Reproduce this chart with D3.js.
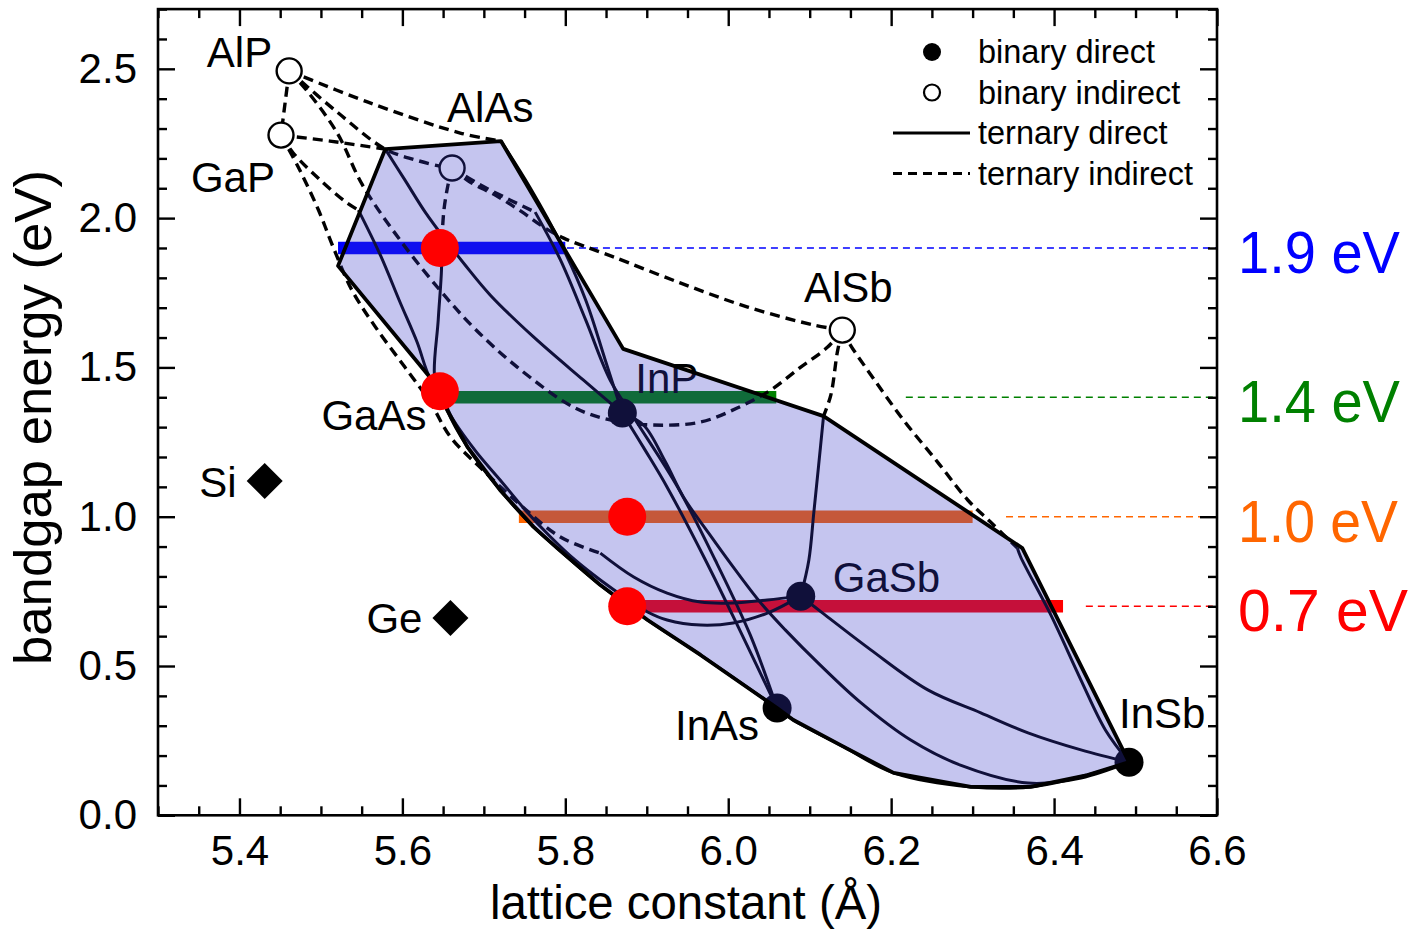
<!DOCTYPE html>
<html>
<head>
<meta charset="utf-8">
<script src="https://cdn.jsdelivr.net/npm/d3@7"></script>
<style>
  html, body { margin: 0; padding: 0; background: #fff; }
  svg { display: block; }
  text { font-family: "Liberation Sans", Arial, Helvetica, sans-serif; }
</style>
</head>
<body>
<svg id="chart" width="1419" height="931"></svg>
<script>
// ---------- data: III-V binaries (lattice constant in Å, bandgap in eV) ----------
const binaryNames   = ["AlP", "GaP", "AlAs", "AlSb", "GaAs", "InP", "GaSb", "InAs", "InSb"];
const binaryLattice = [5.461, 5.451, 5.661, 6.140, 5.648, 5.870, 6.089, 6.060, 6.492];
const binaryGap     = [2.493, 2.278, 2.168, 1.625, 1.420, 1.347, 0.734, 0.359, 0.178];
const binaryDirect  = [false, false, false, false, true, true, true, true, true];

// group-IV elements
const elementNames   = ["Si", "Ge"];
const elementLattice = [5.431, 5.659];
const elementGap     = [1.120, 0.661];

// ---------- ternary alloys: [lattice, gap] along each composition curve ----------
// indirect (X-valley) parts
const AlGaP_ind  = [[5.461,2.493],[5.451,2.278]];
const AlPAs_ind  = [[5.461,2.493],[5.520,2.355],[5.579,2.231],[5.616,2.195],[5.646,2.174],[5.661,2.168]];
const AlInP_ind  = [[5.461,2.493],[5.557,2.389],[5.671,2.285],[5.721,2.258]];
const GaInP_ind  = [[5.451,2.278],[5.511,2.258],[5.579,2.231]];
const GaAsP_ind  = [[5.451,2.278],[5.466,2.218],[5.499,2.128],[5.532,2.051],[5.546,2.027]];
const GaPSb_ind  = [[5.451,2.278],[5.474,2.161],[5.497,2.027],[5.515,1.903],[5.538,1.759],[5.567,1.635],
                    [5.603,1.501],[5.634,1.384],[5.659,1.267],[5.699,1.156],[5.745,1.039],[5.794,0.932],[5.843,0.878]];
const AlPSb_ind  = [[5.461,2.493],[5.483,2.426],[5.520,2.285],[5.551,2.111],[5.597,1.927],[5.646,1.759],
                    [5.687,1.635],[5.741,1.501],[5.810,1.367],[5.855,1.324],[5.908,1.307],[5.966,1.317],
                    [6.011,1.364],[6.052,1.424],[6.089,1.501],[6.122,1.568],[6.140,1.625]];
const AlGaAs_ind = [[5.661,2.168],[5.656,2.111],[5.651,2.027],[5.648,1.900]];
const AlAsSb_ind = [[5.661,2.168],[5.683,2.121],[5.714,2.077],[5.745,2.024],[5.775,1.967],[5.798,1.933],
                    [5.822,1.907],[5.859,1.870],[5.941,1.783],[6.024,1.702],[6.105,1.642],[6.140,1.625]];
const AlInAs_ind = [[5.661,2.168],[5.696,2.111],[5.732,2.061],[5.763,2.020]];
const AlGaSb_ind = [[6.140,1.625],[6.134,1.552],[6.126,1.408],[6.117,1.337]];
const AlInSb_ind = [[6.140,1.625],[6.150,1.575],[6.178,1.464],[6.215,1.324],[6.257,1.183],[6.294,1.056],
                    [6.322,0.982],[6.355,0.895]];

// direct (Gamma-valley) parts
const AlInP_dir  = [[5.721,2.258],[5.757,2.101],[5.794,1.917],[5.825,1.726],[5.849,1.525],[5.870,1.347]];
const GaInP_dir  = [[5.579,2.231],[5.603,2.128],[5.628,2.020],[5.653,1.927],[5.677,1.843],[5.708,1.742],
                    [5.761,1.602],[5.822,1.458],[5.870,1.347]];
const GaAsP_dir  = [[5.546,2.027],[5.573,1.876],[5.597,1.719],[5.618,1.585],[5.634,1.464],[5.648,1.420]];
const GaPSb_dir  = [[5.843,0.878],[5.884,0.798],[5.925,0.744],[5.966,0.714],[6.006,0.711],[6.048,0.721],[6.089,0.734]];
const AlGaAs_dir = [[5.648,1.900],[5.648,1.826],[5.644,1.659],[5.640,1.458],[5.648,1.420]];
const AlInAs_dir = [[5.763,2.020],[5.794,1.860],[5.825,1.659],[5.855,1.458],[5.886,1.324],[5.938,1.099],
                    [5.984,0.855],[6.027,0.604],[6.060,0.359]];
const InAsP_dir  = [[5.870,1.347],[5.898,1.223],[5.925,1.099],[5.972,0.855],[6.017,0.604],[6.060,0.359]];
const InPSb_dir  = [[5.870,1.347],[5.896,1.307],[5.923,1.183],[5.945,1.066],[5.976,0.945],[6.006,0.832],
                    [6.040,0.711],[6.070,0.621],[6.113,0.503],[6.162,0.379],[6.224,0.252],[6.285,0.168],
                    [6.368,0.108],[6.433,0.125],[6.492,0.178]];
const GaAsSb_dir = [[5.648,1.420],[5.659,1.341],[5.689,1.223],[5.720,1.123],[5.751,1.022],[5.782,0.932],
                    [5.812,0.855],[5.843,0.788],[5.874,0.728],[5.901,0.681],[5.925,0.654],[5.966,0.637],
                    [6.006,0.644],[6.048,0.677],[6.089,0.734]];
const GaInAs_dir = [[5.648,1.420],[5.655,1.357],[5.680,1.233],[5.720,1.089],[5.761,0.966],[5.790,0.895],
                    [5.843,0.771],[5.901,0.654],[5.966,0.537],[6.060,0.359]];
const InAsSb_dir = [[6.060,0.359],[6.080,0.319],[6.142,0.229],[6.203,0.142],[6.298,0.095],[6.371,0.095],
                    [6.441,0.135],[6.492,0.178]];
const GaInSb_dir = [[6.089,0.734],[6.116,0.677],[6.175,0.554],[6.245,0.420],[6.310,0.343],[6.368,0.276],
                    [6.433,0.219],[6.492,0.178]];
const AlGaSb_dir = [[6.117,1.337],[6.111,1.173],[6.105,1.012],[6.099,0.855],[6.089,0.734]];
const AlInSb_dir = [[6.355,0.895],[6.359,0.865],[6.396,0.671],[6.433,0.453],[6.463,0.286],[6.492,0.178]];

// upper boundary of the shaded direct-gap region (lower boundary follows GaInAs and InAsSb)
const regionUpper = [[5.521,1.840],[5.579,2.231],[5.721,2.258],[5.871,1.562],[6.117,1.337],[6.361,0.895],[6.492,0.178]];

// target bandgaps with their lattice-constant spans
const targetGap    = [1.9, 1.4, 1.0, 0.7];
const targetLabels = ["1.9 eV", "1.4 eV", "1.0 eV", "0.7 eV"];
const barFrom      = [5.521, 5.646, 5.743, 5.876];
const barTo        = [5.800, 6.059, 6.300, 6.411];
const guideFrom    = [5.802, 6.218, 6.341, 6.439];

// highlighted compositions
const dotLattice = [5.646, 5.646, 5.876, 5.876];
const dotGap     = [1.9, 1.42, 1.0, 0.7];

// axis ticks
const xTicks = [5.4, 5.6, 5.8, 6.0, 6.2, 6.4, 6.6];
const yTicks = [0.0, 0.5, 1.0, 1.5, 2.0, 2.5];

// legend
const legendLabels = ["binary direct", "binary indirect", "ternary direct", "ternary indirect"];

// ---------- drawing ----------
const svg = d3.select("#chart");
const x = d3.scaleLinear().domain([5.3, 6.6]).range([158, 1217]);
const y = d3.scaleLinear().domain([0, 2.7]).range([815.3, 9.1]);

const targetColors = ["#0000ff", "#008000", "#ff6600", "#ff0000"];

const lineGen = d3.line().x(d => x(d[0])).y(d => y(d[1])).curve(d3.curveCatmullRom.alpha(0.5));

const under = svg.append("g");

// target bars and horizontal guides
under.selectAll("line.bar").data(targetGap).join("line")
  .attr("x1", (d, i) => x(barFrom[i])).attr("x2", (d, i) => x(barTo[i]))
  .attr("y1", d => y(d)).attr("y2", d => y(d))
  .attr("stroke", (d, i) => targetColors[i]).attr("stroke-width", 12.5);

under.selectAll("line.guide").data(targetGap).join("line")
  .attr("x1", (d, i) => x(guideFrom[i])).attr("x2", x(6.6))
  .attr("y1", d => y(d)).attr("y2", d => y(d))
  .attr("stroke", (d, i) => targetColors[i]).attr("stroke-width", 1.5)
  .attr("stroke-dasharray", "7,5");

// ternary curves
const indirectCurves = [AlGaP_ind, AlPAs_ind, AlInP_ind, GaInP_ind, GaAsP_ind, GaPSb_ind, AlPSb_ind,
                        AlGaAs_ind, AlAsSb_ind, AlInAs_ind, AlGaSb_ind, AlInSb_ind];
const directCurves = [AlInP_dir, GaInP_dir, GaAsP_dir, GaPSb_dir, AlGaAs_dir, AlInAs_dir, InAsP_dir,
                      InPSb_dir, GaAsSb_dir, GaInAs_dir, InAsSb_dir, GaInSb_dir, AlGaSb_dir, AlInSb_dir];

under.selectAll("path.direct").data(directCurves).join("path")
  .attr("d", lineGen).attr("fill", "none").attr("stroke", "#000").attr("stroke-width", 3);

under.selectAll("path.indirect").data(indirectCurves).join("path")
  .attr("d", lineGen).attr("fill", "none").attr("stroke", "#000").attr("stroke-width", 3.4)
  .attr("stroke-dasharray", "10,6");

// binaries
const binaries = binaryNames.map((n, i) => ({ name: n, a: binaryLattice[i], g: binaryGap[i], direct: binaryDirect[i] }));
under.selectAll("circle.bin").data(binaries).join("circle")
  .attr("cx", d => x(d.a)).attr("cy", d => y(d.g))
  .attr("r", d => d.direct ? 14.5 : 12.5)
  .attr("fill", d => d.direct ? "#000" : "#fff")
  .attr("stroke", "#000").attr("stroke-width", d => d.direct ? 0 : 2.4);

// label placement around each marker: [dx, dy, anchor]
const labelPlace = {
  AlP: [-17, -4, "end"], GaP: [-6, 57, "end"], AlAs: [-5, -46, "start"], AlSb: [6, -28, "middle"],
  GaAs: [-15, 39, "end"], InP: [13, -20, "start"], GaSb: [32, -4, "start"], InAs: [-18, 32, "end"],
  InSb: [-10, -34, "start"], Si: [-28, 16, "end"], Ge: [-28, 15, "end"]
};

under.selectAll("text.bin").data(binaries).join("text")
  .attr("x", d => x(d.a) + labelPlace[d.name][0])
  .attr("y", d => y(d.g) + labelPlace[d.name][1])
  .attr("text-anchor", d => labelPlace[d.name][2])
  .attr("font-size", 42).attr("fill", "#000")
  .text(d => d.name);

// group-IV elements as diamonds
const elements = elementNames.map((n, i) => ({ name: n, a: elementLattice[i], g: elementGap[i] }));
under.selectAll("path.elem").data(elements).join("path")
  .attr("d", d => { const cx = x(d.a), cy = y(d.g), r = 18;
    return `M${cx},${cy - r}L${cx + r},${cy}L${cx},${cy + r}L${cx - r},${cy}Z`; })
  .attr("fill", "#000");
under.selectAll("text.elem").data(elements).join("text")
  .attr("x", d => x(d.a) + labelPlace[d.name][0])
  .attr("y", d => y(d.g) + labelPlace[d.name][1])
  .attr("text-anchor", "end").attr("font-size", 42).text(d => d.name);

// shaded direct-gap region
const regionPts = regionUpper.concat(InAsSb_dir.slice().reverse().slice(1), GaInAs_dir.slice().reverse().slice(1));
const polyGen = d3.line().x(d => x(d[0])).y(d => y(d[1])).curve(d3.curveLinearClosed);
svg.append("path").attr("d", polyGen(regionPts))
  .attr("fill", "rgba(55,55,200,0.29)").attr("stroke", "none");
svg.append("path").attr("d", polyGen(regionPts))
  .attr("fill", "none").attr("stroke", "#000").attr("stroke-width", 3.8).attr("stroke-linejoin", "round");

// highlighted compositions
svg.selectAll("circle.dot").data(dotGap).join("circle")
  .attr("cx", (d, i) => x(dotLattice[i])).attr("cy", d => y(d))
  .attr("r", 19).attr("fill", "#ff0000");

// ---------- axes ----------
const xMinor = d3.range(0, 27).map(i => +(5.3 + i * 0.05).toFixed(2)).filter(v => !xTicks.some(t => Math.abs(t - v) < 1e-6));
const yMinor = d3.range(0, 28).map(i => +(i * 0.1).toFixed(1)).filter(v => !yTicks.some(t => Math.abs(t - v) < 1e-6));

function styleAxis(g) {
  g.select(".domain").remove();
  g.selectAll(".tick line").attr("stroke", "#000").attr("stroke-width", 2.4);
  g.selectAll(".tick text").attr("font-size", 42).attr("fill", "#000")
    .attr("font-family", "'Liberation Sans', Arial, sans-serif");
}

const fmt = d3.format(".1f");
svg.append("g").attr("transform", "translate(0,815.3)")
  .call(d3.axisBottom(x).tickValues(xTicks).tickFormat(fmt).tickSizeInner(-17).tickSizeOuter(0).tickPadding(20))
  .call(styleAxis);
svg.append("g").attr("transform", "translate(0,815.3)")
  .call(d3.axisBottom(x).tickValues(xMinor).tickFormat("").tickSizeInner(-9).tickSizeOuter(0))
  .call(styleAxis);
svg.append("g").attr("transform", "translate(0,9.1)")
  .call(d3.axisTop(x).tickValues(xTicks).tickFormat("").tickSizeInner(-17).tickSizeOuter(0))
  .call(styleAxis);
svg.append("g").attr("transform", "translate(0,9.1)")
  .call(d3.axisTop(x).tickValues(xMinor).tickFormat("").tickSizeInner(-9).tickSizeOuter(0))
  .call(styleAxis);

svg.append("g").attr("transform", "translate(158,0)")
  .call(d3.axisLeft(y).tickValues(yTicks).tickFormat(fmt).tickSizeInner(-17).tickSizeOuter(0).tickPadding(21))
  .call(styleAxis);
svg.append("g").attr("transform", "translate(158,0)")
  .call(d3.axisLeft(y).tickValues(yMinor).tickFormat("").tickSizeInner(-9).tickSizeOuter(0))
  .call(styleAxis);
svg.append("g").attr("transform", "translate(1217,0)")
  .call(d3.axisRight(y).tickValues(yTicks).tickFormat("").tickSizeInner(-17).tickSizeOuter(0))
  .call(styleAxis);
svg.append("g").attr("transform", "translate(1217,0)")
  .call(d3.axisRight(y).tickValues(yMinor).tickFormat("").tickSizeInner(-9).tickSizeOuter(0))
  .call(styleAxis);

svg.append("rect").attr("x", 158).attr("y", 9.1).attr("width", 1217 - 158).attr("height", 815.3 - 9.1)
  .attr("fill", "none").attr("stroke", "#000").attr("stroke-width", 2.6);

// axis titles
svg.append("text").attr("x", 686).attr("y", 919).attr("text-anchor", "middle")
  .attr("font-size", 48).attr("textLength", 392).attr("lengthAdjust", "spacingAndGlyphs")
  .text("lattice constant (Å)");
svg.append("text").attr("transform", "translate(51,417.5) rotate(-90)").attr("text-anchor", "middle")
  .attr("font-size", 52).attr("textLength", 495).attr("lengthAdjust", "spacingAndGlyphs")
  .text("bandgap energy (eV)");

// ---------- legend ----------
const legend = svg.append("g");
const rowY = i => 52 + i * 40.5;
legend.append("circle").attr("cx", 932).attr("cy", rowY(0)).attr("r", 9).attr("fill", "#000");
legend.append("circle").attr("cx", 932).attr("cy", rowY(1)).attr("r", 8).attr("fill", "#fff")
  .attr("stroke", "#000").attr("stroke-width", 2.2);
legend.append("line").attr("x1", 893).attr("x2", 970).attr("y1", rowY(2)).attr("y2", rowY(2))
  .attr("stroke", "#000").attr("stroke-width", 3);
legend.append("line").attr("x1", 893).attr("x2", 970).attr("y1", rowY(3)).attr("y2", rowY(3))
  .attr("stroke", "#000").attr("stroke-width", 3).attr("stroke-dasharray", "9,6");
legend.selectAll("text").data(legendLabels).join("text")
  .attr("x", 978).attr("y", (d, i) => rowY(i) + 11).attr("font-size", 32.5).text(d => d);

// ---------- target energy labels ----------
const evLengths = [162, 162, 160, 170];
svg.selectAll("text.ev").data(targetGap).join("text")
  .attr("x", 1238).attr("y", d => y(d) + 25)
  .attr("font-family", "'Comic Sans MS', 'Comic Neue', 'DejaVu Sans', sans-serif")
  .attr("font-size", 60).attr("fill", (d, i) => targetColors[i])
  .attr("textLength", (d, i) => evLengths[i]).attr("lengthAdjust", "spacingAndGlyphs")
  .text((d, i) => targetLabels[i]);
</script>
</body>
</html>
